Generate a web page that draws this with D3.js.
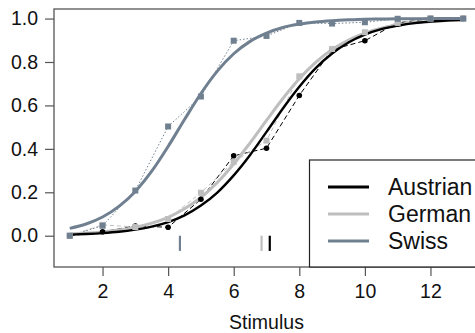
<!DOCTYPE html>
<html>
<head>
<meta charset="utf-8">
<script src="https://cdn.jsdelivr.net/npm/d3@7"></script>
<style>
  body { margin: 0; background: #fff; }
  svg { display: block; font-family: "Liberation Sans", Arial, sans-serif; }
</style>
</head>
<body>
<svg width="475" height="333"></svg>
<script>
// stimulus levels
const stimulus = [1, 2, 3, 4, 5, 6, 7, 8, 9, 10, 11, 12, 13];

const austrianObs = [0.0, 0.018, 0.045, 0.039, 0.168, 0.368, 0.403, 0.646, 0.857, 0.898, 0.98, 1.0, 1.0];
const germanObs = [0.0, 0.05, 0.04, 0.077, 0.198, 0.34, 0.438, 0.734, 0.86, 0.937, 0.98, 1.0, 1.0];
const swissObs = [0.0, 0.046, 0.208, 0.503, 0.641, 0.898, 0.92, 0.98, 0.977, 0.983, 0.999, 1.0, 1.0];

// fitted curves, read at half steps
const curveX = [1, 1.5, 2, 2.5, 3, 3.5, 4, 4.5, 5, 5.5, 6, 6.5, 7, 7.5, 8, 8.5, 9, 9.5, 10, 10.5, 11, 11.5, 12, 12.5, 13];
const austrianFit = [0.005, 0.008, 0.012, 0.018, 0.028, 0.042, 0.063, 0.094, 0.139, 0.199, 0.278, 0.372, 0.478, 0.586, 0.686, 0.772, 0.839, 0.89, 0.926, 0.951, 0.967, 0.979, 0.986, 0.991, 0.994];
const germanFit = [0.008, 0.012, 0.017, 0.026, 0.039, 0.058, 0.085, 0.124, 0.176, 0.245, 0.33, 0.428, 0.531, 0.632, 0.723, 0.798, 0.857, 0.901, 0.933, 0.955, 0.97, 0.98, 0.987, 0.991, 0.994];
const swissFit = [0.034, 0.054, 0.086, 0.135, 0.204, 0.297, 0.411, 0.535, 0.655, 0.758, 0.838, 0.895, 0.933, 0.959, 0.974, 0.984, 0.99, 0.994, 0.997, 0.998, 0.999, 0.999, 1.0, 1.0, 1.0];

// points of subjective equality
const pse = { Austrian: 7.1, German: 6.85, Swiss: 4.36 };

const groups = ["Austrian", "German", "Swiss"];
const xTicks = [2, 4, 6, 8, 10, 12];
const yTicks = [0, 0.2, 0.4, 0.6, 0.8, 1.0];

const svg = d3.select("svg");

// plot region (right edge runs off the canvas, as in the original)
const plotL = 54, plotR = 479, plotT = 9, plotB = 267;

const x = d3.scaleLinear().domain([0.52, 13.48]).range([plotL, plotR]);
const y = d3.scaleLinear().domain([-0.144, 1.044]).range([plotB, plotT]);

const style = {
  Austrian: { col: "#000000", dash: "5,3", obs: austrianObs, fit: austrianFit, shape: "circle" },
  German: { col: "#bebebe", dash: "4,3", obs: germanObs, fit: germanFit, shape: "square" },
  Swiss: { col: "#708090", dash: "1.5,2", obs: swissObs, fit: swissFit, shape: "square" }
};

// box
svg.append("rect")
  .attr("x", plotL).attr("y", plotT)
  .attr("width", plotR - plotL).attr("height", plotB - plotT)
  .attr("fill", "none").attr("stroke", "#555").attr("stroke-width", 1.3);

// y axis
const yAxis = svg.append("g")
  .attr("transform", "translate(" + plotL + ",0)")
  .call(d3.axisLeft(y).tickValues(yTicks).tickFormat(d3.format(".1f")).tickSize(9).tickPadding(7));
yAxis.select(".domain").remove();
yAxis.selectAll("line").attr("stroke", "#555").attr("stroke-width", 1.2);
yAxis.selectAll("text").style("font-size", "19.5px").attr("fill", "#111")
  .style("font-family", "'Liberation Sans', Arial, sans-serif");

// x axis
const xAxis = svg.append("g")
  .attr("transform", "translate(0," + plotB + ")")
  .call(d3.axisBottom(x).tickValues(xTicks).tickSize(9).tickPadding(8));
xAxis.select(".domain").remove();
xAxis.selectAll("line").attr("stroke", "#555").attr("stroke-width", 1.2);
xAxis.selectAll("text").style("font-size", "19.5px").attr("fill", "#111")
  .style("font-family", "'Liberation Sans', Arial, sans-serif");

svg.append("text")
  .attr("x", (plotL + plotR) / 2)
  .attr("y", 329)
  .attr("text-anchor", "middle")
  .style("font-size", "19.5px")
  .attr("fill", "#111")
  .text("Stimulus");

// observed data joined by thin lines
const obsLine = d3.line().x((d, i) => x(stimulus[i])).y(d => y(d));
groups.forEach(g => {
  svg.append("path")
    .datum(style[g].obs)
    .attr("d", obsLine)
    .attr("fill", "none")
    .attr("stroke", style[g].col)
    .attr("stroke-width", 1)
    .attr("stroke-dasharray", style[g].dash);
});

// fitted curves
const fitLine = d3.line().x((d, i) => x(curveX[i])).y(d => y(d)).curve(d3.curveMonotoneX);
["German", "Austrian", "Swiss"].forEach(g => {
  svg.append("path")
    .datum(style[g].fit)
    .attr("d", fitLine)
    .attr("fill", "none")
    .attr("stroke", style[g].col)
    .attr("stroke-width", g === "Austrian" ? 2.4 : 3);
});

// points
groups.forEach(g => {
  const s = style[g];
  const sel = svg.append("g").selectAll("*").data(s.obs).enter();
  if (s.shape === "circle") {
    sel.append("circle")
      .attr("cx", (d, i) => x(stimulus[i]))
      .attr("cy", d => y(d))
      .attr("r", 2.8)
      .attr("fill", s.col);
  } else {
    sel.append("rect")
      .attr("x", (d, i) => x(stimulus[i]) - 3)
      .attr("y", d => y(d) - 3)
      .attr("width", 6).attr("height", 6)
      .attr("fill", s.col);
  }
});

// PSE markers
groups.forEach(g => {
  svg.append("line")
    .attr("x1", x(pse[g])).attr("x2", x(pse[g]))
    .attr("y1", y(0.0)).attr("y2", y(-0.07))
    .attr("stroke", style[g].col)
    .attr("stroke-width", 2.2);
});

// legend
const lg = svg.append("g");
lg.append("rect")
  .attr("x", 309.5).attr("y", 160)
  .attr("width", 200).attr("height", plotB - 160)
  .attr("fill", "#fff").attr("stroke", "#222").attr("stroke-width", 1.2);
groups.forEach((g, i) => {
  const yy = 187 + i * 27;
  lg.append("line")
    .attr("x1", 328).attr("x2", 369)
    .attr("y1", yy).attr("y2", yy)
    .attr("stroke", style[g].col)
    .attr("stroke-width", 3);
  lg.append("text")
    .attr("x", 388).attr("y", yy + 8)
    .style("font-size", "23px")
    .attr("fill", "#111")
    .text(g);
});
</script>
</body>
</html>
